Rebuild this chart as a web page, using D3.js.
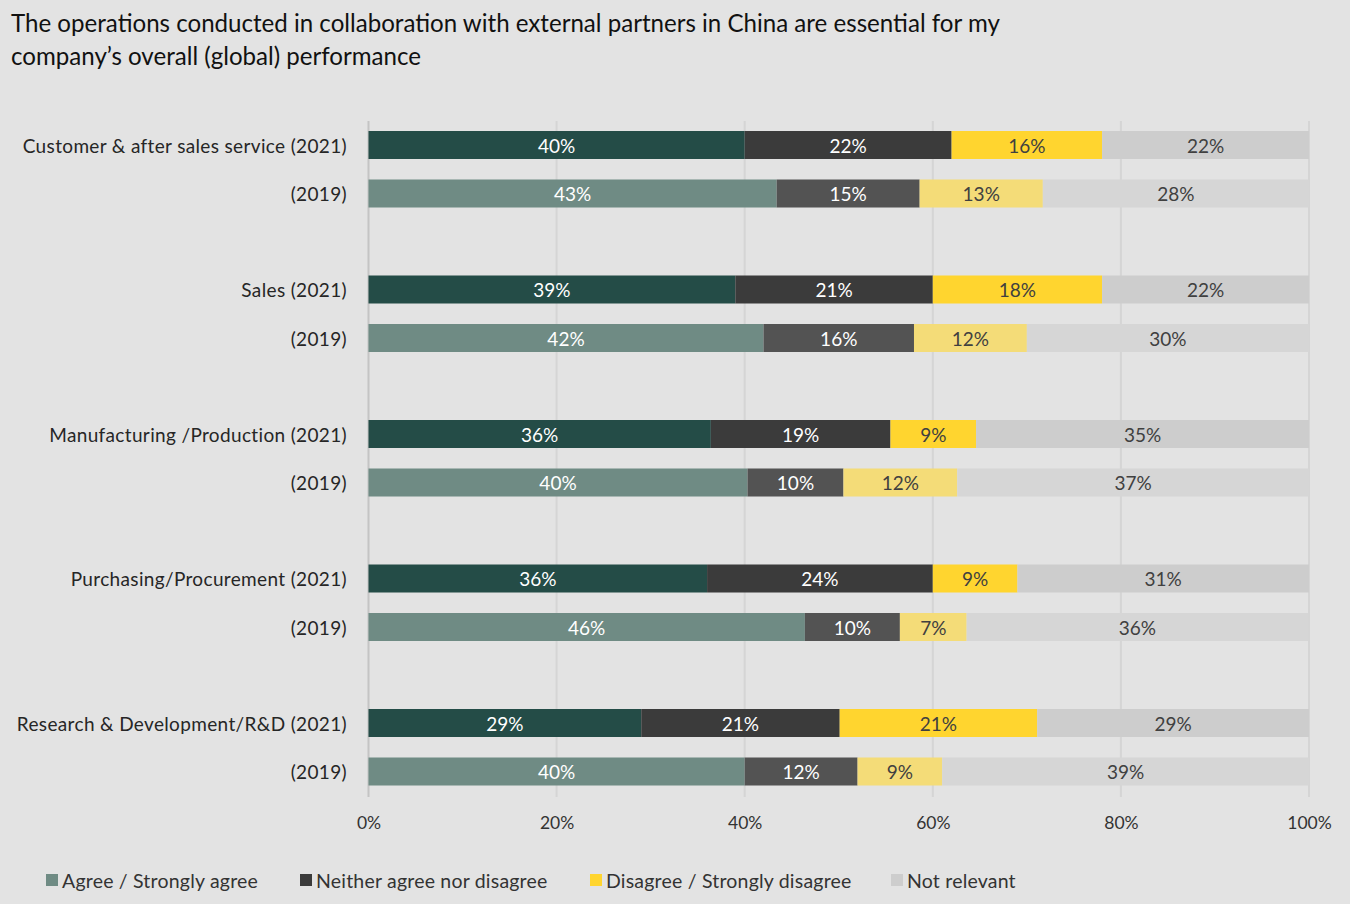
<!DOCTYPE html>
<html>
<head>
<meta charset="utf-8">
<script src="https://cdn.jsdelivr.net/npm/d3@7"></script>
<style>
  html, body { margin: 0; padding: 0; background: #e3e3e3; }
  svg { display: block; font-family: Lato, "Open Sans", sans-serif; }
</style>
</head>
<body>
<svg id="chart" width="1350" height="904"></svg>
<script>
// Survey rows, top to bottom
const rowLabels = [
  "Customer & after sales service (2021)", "(2019)",
  "Sales (2021)", "(2019)",
  "Manufacturing /Production (2021)", "(2019)",
  "Purchasing/Procurement (2021)", "(2019)",
  "Research & Development/R&D (2021)", "(2019)"
];
const rowYears = [2021, 2019, 2021, 2019, 2021, 2019, 2021, 2019, 2021, 2019];

// Shares in percent, one array per answer
const agree        = [40.0, 43.4, 39.0, 42.0, 36.4, 40.3, 36.0, 46.4, 29.0, 40.0];
const neither      = [22.0, 15.2, 21.0, 16.0, 19.1, 10.2, 24.0, 10.1, 21.1, 12.0];
const disagree     = [16.0, 13.1, 18.0, 12.0,  9.1, 12.1,  9.0,  7.1, 21.0,  9.0];
const notRelevant  = [22.0, 28.3, 22.0, 30.0, 35.4, 37.4, 31.0, 36.3, 28.9, 39.0];

const seriesNames = ["Agree / Strongly agree", "Neither agree nor disagree",
                     "Disagree / Strongly disagree", "Not relevant"];
const xTicks = [0, 20, 40, 60, 80, 100];

const titleLines = [
  "The operations conducted in collaboration with external partners in China are essential for my",
  "company\u2019s overall (global) performance"
];

// Fill per answer, with the 2019 rows in a lighter tone
const colors2021 = ["#244c47", "#3b3b3b", "#ffd52f", "#cdcdcd"];
const colors2019 = ["#6f8b84", "#535353", "#f4dc78", "#d6d6d6"];
const legendColors = ["#6f8b84", "#3b3b3b", "#ffd52f", "#cdcdcd"];
const textOnDark = "#ffffff", textOnLight = "#404040";
const darkText = [true, true, false, false];

const svg = d3.select("#chart");

// Title
svg.append("g").selectAll("text").data(titleLines).join("text")
  .attr("x", 11).attr("y", (d, i) => 32 + i * 33)
  .attr("font-size", 24.1).attr("fill", "#111")
  .text(d => d);

// Scales
const x = d3.scaleLinear().domain([0, 100]).range([368.5, 1309]);
const rowCenters = rowLabels.map((d, i) => 145 + Math.floor(i / 2) * 144.5 + (i % 2) * 48.5);
const y = d3.scaleOrdinal().domain(d3.range(rowLabels.length)).range(rowCenters);
const barH = 28;

// Gridlines and axis
const grid = svg.append("g");
grid.selectAll("line").data(xTicks.slice(1)).join("line")
  .attr("x1", d => x(d)).attr("x2", d => x(d))
  .attr("y1", 121).attr("y2", 797)
  .attr("stroke", "#d5d5d5").attr("stroke-width", 2);
svg.append("line")
  .attr("x1", x(0)).attr("x2", x(0)).attr("y1", 121).attr("y2", 797)
  .attr("stroke", "#c4c4c4").attr("stroke-width", 2);

const xAxis = d3.axisBottom(x).tickValues(xTicks).tickFormat(d => d + "%").tickSize(0).tickPadding(0);
const axG = svg.append("g").attr("transform", "translate(0,829)").call(xAxis);
axG.select(".domain").remove();
axG.selectAll("text").attr("font-size", 17.5).attr("fill", "#333")
  .attr("font-family", "Lato, 'Open Sans', sans-serif").attr("dy", 0);

// Stacked data
const rows = rowLabels.map((label, i) => ({
  i, label, year: rowYears[i],
  vals: [agree[i], neither[i], disagree[i], notRelevant[i]]
}));
const segments = [];
rows.forEach(r => {
  let acc = 0;
  r.vals.forEach((v, k) => {
    segments.push({ row: r.i, year: r.year, k, v, x0: acc, x1: acc + v });
    acc += v;
  });
});

const barG = svg.append("g");
barG.selectAll("rect").data(segments).join("rect")
  .attr("x", d => x(d.x0))
  .attr("width", d => x(d.x1) - x(d.x0))
  .attr("y", d => y(d.row) - barH / 2)
  .attr("height", barH)
  .attr("fill", d => (d.year === 2021 ? colors2021 : colors2019)[d.k]);

barG.selectAll("text").data(segments).join("text")
  .attr("x", d => (x(d.x0) + x(d.x1)) / 2)
  .attr("y", d => y(d.row) + 1)
  .attr("dy", "0.35em")
  .attr("text-anchor", "middle")
  .attr("font-size", 19)
  .attr("fill", d => darkText[d.k] ? textOnDark : textOnLight)
  .text(d => Math.round(d.v) + "%");

// Row labels
svg.append("g").selectAll("text").data(rows).join("text")
  .attr("x", 347).attr("y", d => y(d.i) + 1).attr("dy", "0.35em")
  .attr("text-anchor", "end").attr("font-size", 19).attr("letter-spacing", 0.35)
  .attr("fill", "#262626")
  .text(d => d.label);

// Legend
const legendX = [46, 300, 590, 891];
const leg = svg.append("g").selectAll("g").data(seriesNames).join("g")
  .attr("transform", (d, i) => `translate(${legendX[i]},880)`);
leg.append("rect").attr("x", 0).attr("y", -6).attr("width", 12).attr("height", 12)
  .attr("fill", (d, i) => legendColors[i]);
leg.append("text").attr("x", 16).attr("y", 1).attr("dy", "0.35em")
  .attr("font-size", 19.5).attr("letter-spacing", 0.2).attr("fill", "#333").text(d => d);
</script>
</body>
</html>
